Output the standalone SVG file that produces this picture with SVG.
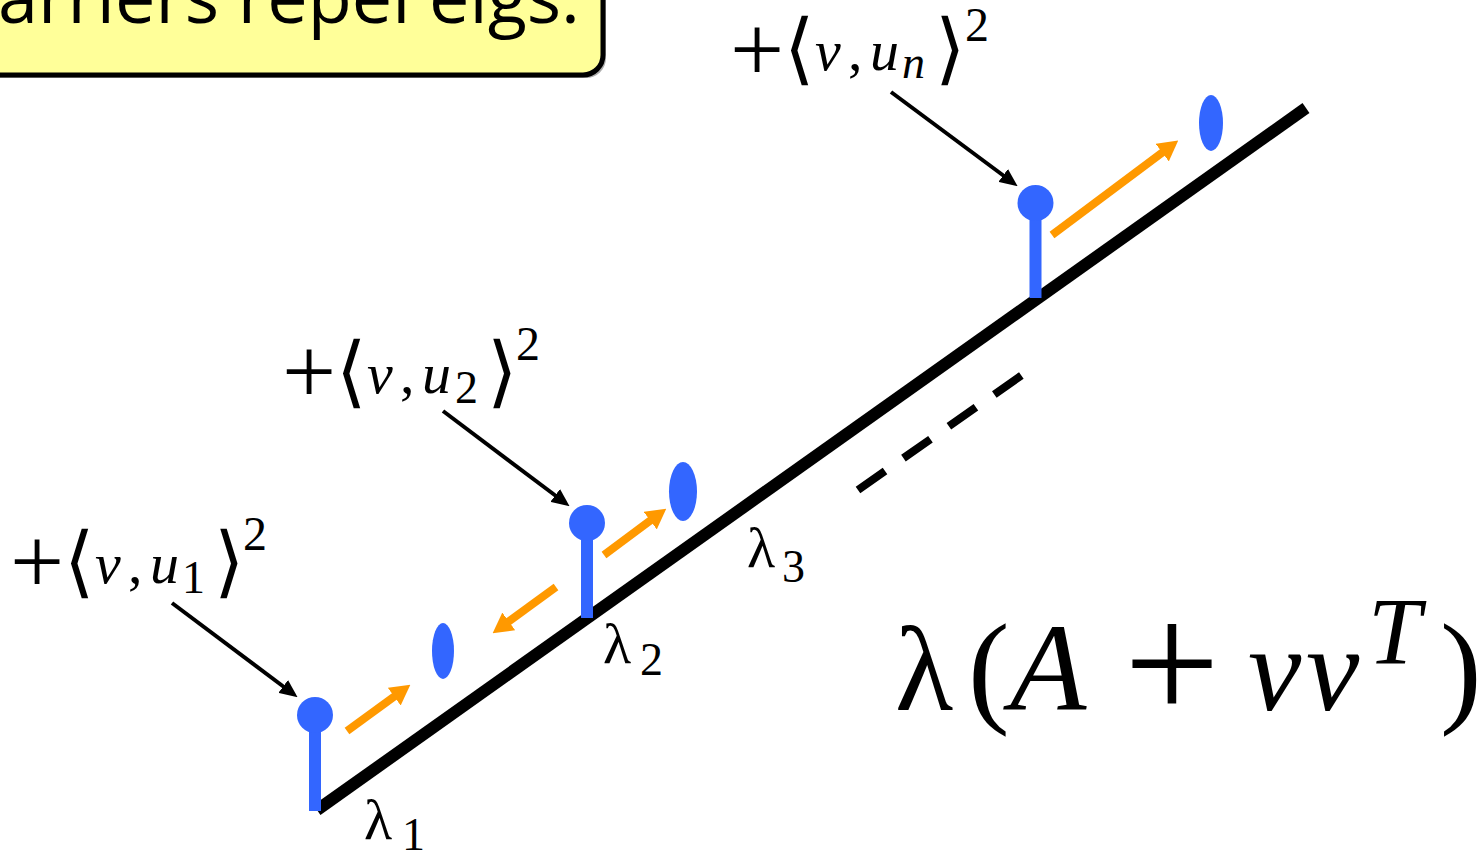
<svg xmlns="http://www.w3.org/2000/svg" width="1480" height="854" viewBox="0 0 1480 854">
<style>
.m{font-family:"Liberation Serif","DejaVu Serif",serif;fill:#000}
.i{font-style:italic}
.br{font-family:"DejaVu Sans","DejaVu Serif",sans-serif}
.stem{stroke:#3366FF;stroke-width:12;fill:none}
.blue{fill:#3366FF}
.orange{stroke:#FF9900;stroke-width:8;fill:none;marker-end:url(#oh)}
.ptr{stroke:#000;stroke-width:4;fill:none;marker-end:url(#bh)}
</style>
<defs>
<marker id="oh" markerUnits="userSpaceOnUse" viewBox="0 0 20 22" markerWidth="20" markerHeight="22" refX="1" refY="11" orient="auto"><path d="M0,0 L20,11 L0,22 z" fill="#FF9900"/></marker>
<marker id="bh" markerUnits="userSpaceOnUse" viewBox="0 0 18 16" markerWidth="18" markerHeight="16" refX="1" refY="8" orient="auto"><path d="M0,0 L18,8 L0,16 z" fill="#000"/></marker>
</defs>
<rect width="1480" height="854" fill="#fff"/>
<g id="title-box">
<rect x="-27" y="-57" width="633" height="135" rx="20" fill="#777" opacity="0.6"/>
<rect x="-30" y="-60" width="633" height="135" rx="20" fill="#FFFF99" stroke="#000" stroke-width="5"/>
<text x="580" y="23" text-anchor="end" font-family="'Open Sans','Noto Sans',sans-serif" font-size="72" fill="#000">arriers repel eigs.</text>
</g>
<g id="spectrum-line">
<line x1="317" y1="810" x2="1306" y2="108" stroke="#000" stroke-width="12"/>
<line x1="858" y1="490" x2="1022" y2="375" stroke="#000" stroke-width="8" stroke-dasharray="33 22.5"/>
</g>
<g id="eig1">
<line class="stem" x1="315" y1="715" x2="315" y2="811"/>
<circle class="blue" cx="315" cy="715" r="18"/>
<ellipse class="blue" cx="443" cy="651" rx="11" ry="28"/>
</g>
<g id="eig2">
<line class="stem" x1="587" y1="523" x2="587" y2="618"/>
<circle class="blue" cx="587" cy="523" r="18"/>
<ellipse class="blue" cx="683" cy="491.5" rx="14" ry="29.5"/>
</g>
<g id="eig3">
<line class="stem" x1="1035.5" y1="203" x2="1035.5" y2="298"/>
<circle class="blue" cx="1035.5" cy="203" r="18"/>
<ellipse class="blue" cx="1211" cy="123" rx="12" ry="28"/>
</g>
<g id="connectors">
<line class="orange" x1="347" y1="731" x2="395" y2="696"/>
<line class="orange" x1="604" y1="555" x2="651" y2="520"/>
<line class="orange" x1="556" y1="587" x2="508" y2="622"/>
<line class="orange" x1="1052" y1="235" x2="1163" y2="152"/>
<line class="ptr" x1="172" y1="603" x2="284" y2="687"/>
<line class="ptr" x1="443" y1="411" x2="556" y2="496"/>
<line class="ptr" x1="891" y1="92" x2="1004" y2="176"/>
</g>
<g id="label-u1">
<text class="m"><tspan x="10" y="593" font-size="96">+</tspan><tspan class="br" x="64" y="588" font-size="78">⟨</tspan><tspan class="i" x="95" y="583" font-size="58">v</tspan><tspan x="128" y="583" font-size="58">,</tspan><tspan class="i" x="150" y="583" font-size="58">u</tspan><tspan x="182" y="593" font-size="46">1</tspan><tspan class="br" x="214" y="588" font-size="78">⟩</tspan><tspan x="243" y="550" font-size="48">2</tspan></text>
</g>
<g id="label-u2">
<text class="m"><tspan x="282" y="403" font-size="96">+</tspan><tspan class="br" x="336" y="398" font-size="78">⟨</tspan><tspan class="i" x="367" y="393" font-size="58">v</tspan><tspan x="400" y="393" font-size="58">,</tspan><tspan class="i" x="422" y="393" font-size="58">u</tspan><tspan x="455" y="403" font-size="46">2</tspan><tspan class="br" x="487" y="398" font-size="78">⟩</tspan><tspan x="516" y="360" font-size="48">2</tspan></text>
</g>
<g id="label-un">
<text class="m"><tspan x="730" y="81" font-size="96">+</tspan><tspan class="br" x="784" y="75" font-size="78">⟨</tspan><tspan class="i" x="815" y="70" font-size="58">v</tspan><tspan x="848" y="70" font-size="58">,</tspan><tspan class="i" x="870" y="70" font-size="58">u</tspan><tspan class="i" x="902" y="78" font-size="46">n</tspan><tspan class="br" x="935" y="75" font-size="78">⟩</tspan><tspan x="965" y="41" font-size="48">2</tspan></text>
</g>
<g id="lambda-labels">
<text class="m"><tspan x="364" y="839" font-size="58">λ</tspan><tspan x="402" y="850" font-size="46">1</tspan></text>
<text class="m"><tspan x="603" y="663" font-size="58">λ</tspan><tspan x="640" y="675" font-size="46">2</tspan></text>
<text class="m"><tspan x="747" y="567" font-size="58">λ</tspan><tspan x="782" y="582" font-size="46">3</tspan></text>
</g>
<g id="formula">
<text class="m"><tspan x="895" y="710" font-size="120">λ</tspan><tspan x="968" y="710" font-size="125">(</tspan><tspan class="i" x="1010" y="710" font-size="125">A</tspan><tspan x="1124" y="720" font-size="170">+</tspan><tspan class="i" x="1248" y="710" font-size="120">v</tspan><tspan class="i" x="1306" y="710" font-size="120">v</tspan><tspan class="i" x="1368" y="664" font-size="95">T</tspan><tspan x="1440" y="710" font-size="125">)</tspan></text>
</g>
</svg>
